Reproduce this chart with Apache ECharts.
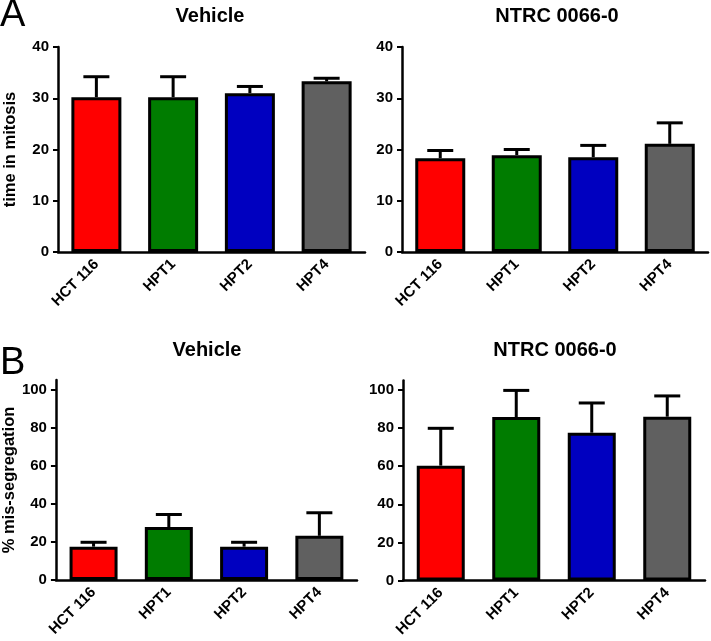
<!DOCTYPE html>
<html>
<head>
<meta charset="utf-8">
<script src="https://cdn.jsdelivr.net/npm/echarts@6/dist/echarts.min.js"></script>
<style>html,body{margin:0;padding:0;background:#fff}#c{width:711px;height:641px}</style>
</head>
<body>
<div id="c"></div>
<script>
// ---- data ----
var categories = ['HCT 116', 'HPT1', 'HPT2', 'HPT4'];
var barColors = ['#ff0000', '#007c00', '#0000c0', '#606060'];

var mitosisVehicle = [30.2, 30.2, 31.0, 33.3];
var mitosisVehicleErr = [4.0, 4.0, 1.3, 0.6];
var mitosisNTRC = [18.3, 18.9, 18.5, 21.1];
var mitosisNTRCErr = [1.5, 1.1, 2.3, 4.1];

var misVehicle = [17.5, 27.8, 17.5, 23.2];
var misVehicleErr = [2.3, 6.6, 2.3, 12.1];
var misNTRC = [60.3, 85.8, 77.6, 86.0];
var misNTRCErr = [19.6, 14.0, 15.6, 10.9];

var panelTitles = ['Vehicle', 'NTRC 0066-0', 'Vehicle', 'NTRC 0066-0'];
var yNames = ['time in mitosis', '% mis-segregation'];
var topTicks = [0, 10, 20, 30, 40];
var bottomTicks = [0, 20, 40, 60, 80, 100];

// ---- chart ----
var FONT = '"Liberation Sans", Arial, Helvetica, sans-serif';
var chart = echarts.init(document.getElementById('c'), null, {renderer: 'canvas'});

var grids = [
  {left: 58, top: 47, width: 307, height: 205},
  {left: 402, top: 47, width: 306, height: 205},
  {left: 53, top: 380, width: 304, height: 200},
  {left: 403, top: 380.5, width: 302, height: 200}
];

function xAxis(i) {
  return {
    type: 'category', gridIndex: i, data: categories,
    axisLine: {lineStyle: {color: '#000', width: 2.5}},
    axisTick: {alignWithLabel: true, length: 5, lineStyle: {color: '#000', width: 2}},
    axisLabel: {rotate: 45, margin: 10, color: '#000', fontWeight: 'bold', fontSize: 15, fontFamily: FONT, interval: 0},
    splitLine: {show: false}
  };
}
function yAxis(i, top) {
  var ticks = top ? topTicks : bottomTicks;
  var a = {
    type: 'value', gridIndex: i, min: 0, max: top ? 40 : 105, interval: top ? 10 : 20,
    axisLine: {show: true, lineStyle: {color: '#000', width: 2.5}},
    axisTick: {show: true, length: 5, lineStyle: {color: '#000', width: 2}, customValues: ticks},
    axisLabel: {color: '#000', fontWeight: 'bold', fontSize: 15, fontFamily: FONT, margin: 9,
      customValues: ticks,
      formatter: function (v) { return ticks.indexOf(v) >= 0 ? String(v) : ''; }},
    splitLine: {show: false}
  };
  if (i === 0 || i === 2) {
    a.name = yNames[i === 0 ? 0 : 1];
    a.nameLocation = 'middle';
    a.nameRotate = 90;
    a.nameGap = i === 0 ? 39 : 35;
    a.nameTextStyle = {color: '#000', fontWeight: 'bold', fontSize: 16.5, fontFamily: FONT};
  }
  return a;
}

function barSeries(i, vals, bw) {
  return {
    type: 'bar', xAxisIndex: i, yAxisIndex: i, barWidth: bw, z: 2,
    data: vals.map(function (v, k) { return {value: v, itemStyle: {color: barColors[k]}}; }),
    itemStyle: {borderColor: '#000', borderWidth: 3},
    emphasis: {disabled: true}, animation: false
  };
}
function errSeries(i, vals, errs) {
  return {
    type: 'custom', xAxisIndex: i, yAxisIndex: i, z: 1, animation: false,
    data: vals.map(function (v, k) { return [k, v, v + errs[k]]; }),
    renderItem: function (params, api) {
      var p0 = api.coord([api.value(0), api.value(1)]);
      var p1 = api.coord([api.value(0), api.value(2)]);
      var half = 13;
      return {
        type: 'group',
        children: [
          {type: 'line', shape: {x1: p0[0], y1: p0[1], x2: p1[0], y2: p1[1]}, style: {stroke: '#000', lineWidth: 3}},
          {type: 'line', shape: {x1: p1[0] - half, y1: p1[1], x2: p1[0] + half, y2: p1[1]}, style: {stroke: '#000', lineWidth: 3}}
        ]
      };
    }
  };
}

var titlePos = [[210, 16], [557, 16], [207, 350], [555, 350.5]];
var graphics = titlePos.map(function (p, k) {
  return {type: 'text', x: p[0], y: p[1], style: {text: panelTitles[k], font: 'bold 20px ' + FONT, fill: '#000', textAlign: 'center', textVerticalAlign: 'middle'}};
});
graphics.push({type: 'text', x: 0, y: 16, style: {text: 'A', font: '38px ' + FONT, fill: '#000', textAlign: 'left', textVerticalAlign: 'middle'}});
graphics.push({type: 'text', x: 0, y: 364, style: {text: 'B', font: '38px ' + FONT, fill: '#000', textAlign: 'left', textVerticalAlign: 'middle'}});

chart.setOption({
  animation: false,
  backgroundColor: '#fff',
  grid: grids,
  xAxis: [xAxis(0), xAxis(1), xAxis(2), xAxis(3)],
  yAxis: [yAxis(0, true), yAxis(1, true), yAxis(2, false), yAxis(3, false)],
  graphic: graphics,
  series: [
    errSeries(0, mitosisVehicle, mitosisVehicleErr), barSeries(0, mitosisVehicle, 50),
    errSeries(1, mitosisNTRC, mitosisNTRCErr), barSeries(1, mitosisNTRC, 50),
    errSeries(2, misVehicle, misVehicleErr), barSeries(2, misVehicle, 48),
    errSeries(3, misNTRC, misNTRCErr), barSeries(3, misNTRC, 48)
  ]
});
</script>
</body>
</html>
